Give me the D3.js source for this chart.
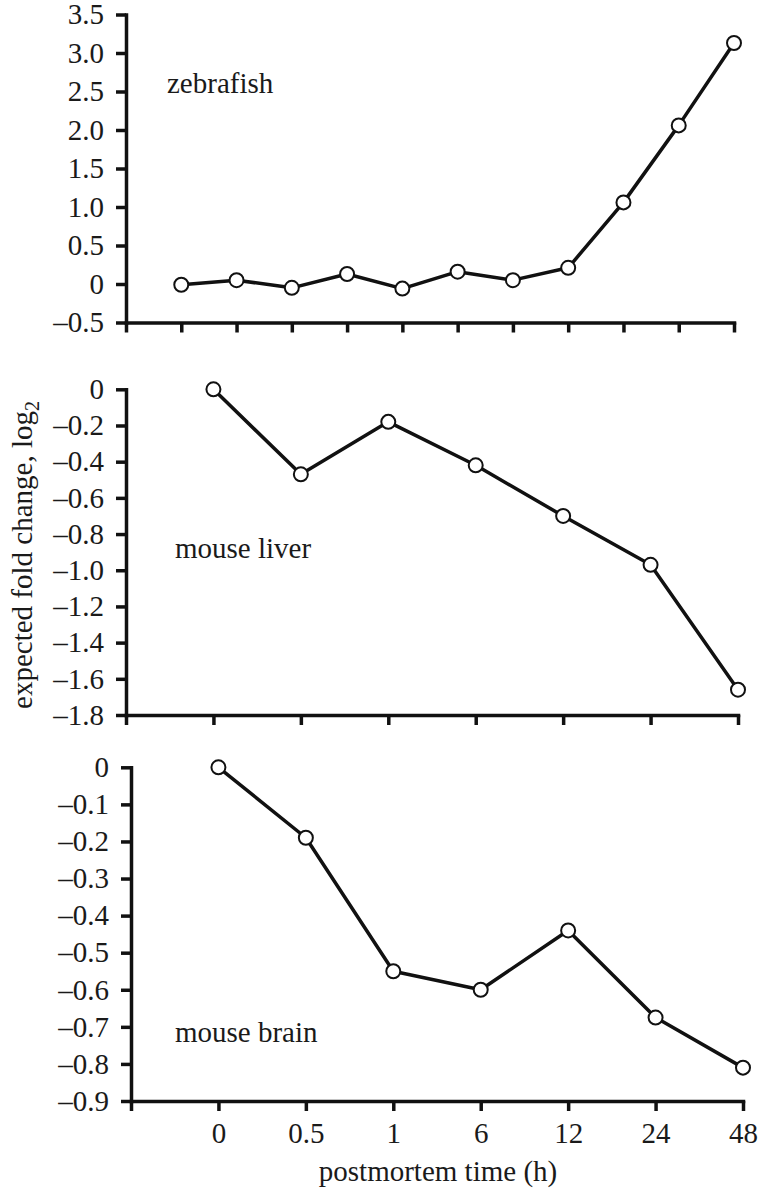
<!DOCTYPE html>
<html>
<head>
<meta charset="utf-8">
<script src="https://cdn.jsdelivr.net/npm/d3@7"></script>
<style>
    body { margin: 0; background: #ffffff; }
    svg text { font-family: "Liberation Serif", "Times New Roman", serif; fill: #1a1a1a; }
</style>
</head>
<body>
<svg id="svg_canvas" width="759" height="1189"></svg>
<script>
// values
var timeLabels = ["0", "0.5", "1", "6", "12", "24", "48"];
var zebrafishValues = [-0.01, 0.05, -0.05, 0.13, -0.06, 0.16, 0.05, 0.21, 1.06, 2.06, 3.13];
var liverValues = [0, -0.47, -0.18, -0.42, -0.70, -0.97, -1.66];
var brainValues = [0, -0.19, -0.55, -0.60, -0.44, -0.675, -0.81];

var zebrafishTicks = [-0.5, 0, 0.5, 1.0, 1.5, 2.0, 2.5, 3.0, 3.5];
var liverTicks = [-1.8, -1.6, -1.4, -1.2, -1.0, -0.8, -0.6, -0.4, -0.2, 0];
var brainTicks = [-0.9, -0.8, -0.7, -0.6, -0.5, -0.4, -0.3, -0.2, -0.1, 0];

var panels = [
    { name: "zebrafish", values: zebrafishValues, ticks: zebrafishTicks, showLabels: false,
      left: 126, right: 734, top: 14.5, bottom: 322.5, labelX: 167, labelY: 93 },
    { name: "mouse liver", values: liverValues, ticks: liverTicks, showLabels: false,
      left: 126, right: 738, top: 389.3, bottom: 715, labelX: 175, labelY: 558 },
    { name: "mouse brain", values: brainValues, ticks: brainTicks, showLabels: true,
      left: 131, right: 743, top: 767.3, bottom: 1101, labelX: 175, labelY: 1042 }
];

var fontSize = 29;
var serif = 'Liberation Serif, Times New Roman, serif';
var svg = d3.select('#svg_canvas');

var fmt = function(d){
    if (Math.abs(d) < 1e-9) return "0";
    var s = d3.format(".1f")(Math.abs(d));
    return d < 0 ? "\u2013" + s : s;
};

var drawPanel = function(p){
    var n = p.values.length;
    var x = d3.scaleLinear().domain([0, n]).range([p.left, p.right]);
    var y = d3.scaleLinear().domain([d3.min(p.ticks), d3.max(p.ticks)]).range([p.bottom, p.top]);
    var g = svg.append('g');

    var yAxis = g.append('g')
        .attr('transform', 'translate(' + p.left + ',0)')
        .call(d3.axisLeft(y).tickValues(p.ticks).tickFormat(fmt).tickSize(10).tickSizeOuter(0).tickPadding(12));

    var xAxis = g.append('g')
        .attr('transform', 'translate(0,' + p.bottom + ')')
        .call(d3.axisBottom(x).tickValues(d3.range(0, n + 1))
            .tickFormat(function(d){ return (p.showLabels && d > 0) ? timeLabels[d - 1] : ""; })
            .tickSize(10).tickSizeOuter(0).tickPadding(11));

    [yAxis, xAxis].forEach(function(a){
        a.attr('font-family', serif).attr('font-size', fontSize);
        a.select('.domain').attr('stroke', '#111').attr('stroke-width', 3.5).attr('stroke-linecap', 'square');
        a.selectAll('.tick line').attr('stroke', '#111').attr('stroke-width', 3.5);
        a.selectAll('text').attr('fill', '#1a1a1a');
    });

    var line = d3.line()
        .x(function(d, i){ return x(i + 1); })
        .y(function(d){ return y(d); });

    g.append('path')
        .datum(p.values)
        .attr('d', line)
        .attr('fill', 'none')
        .attr('stroke', '#111')
        .attr('stroke-width', 3.5)
        .attr('stroke-linejoin', 'round');

    g.selectAll('circle')
        .data(p.values)
        .enter()
        .append('circle')
        .attr('cx', function(d, i){ return x(i + 1); })
        .attr('cy', function(d){ return y(d); })
        .attr('r', 7)
        .attr('fill', '#ffffff')
        .attr('stroke', '#111')
        .attr('stroke-width', 2);

    g.append('text')
        .attr('x', p.labelX)
        .attr('y', p.labelY)
        .style('font-size', fontSize + 'px')
        .text(p.name);
};

panels.forEach(drawPanel);

// shared axis titles
var yTitle = svg.append('text')
    .attr('transform', 'translate(32,555) rotate(-90)')
    .attr('text-anchor', 'middle')
    .style('font-size', fontSize + 'px');
yTitle.append('tspan').text('expected fold change, log');
yTitle.append('tspan').attr('dy', 7).style('font-size', '20px').text('2');

svg.append('text')
    .attr('x', 438)
    .attr('y', 1181)
    .attr('text-anchor', 'middle')
    .style('font-size', fontSize + 'px')
    .text('postmortem time (h)');
</script>
</body>
</html>
